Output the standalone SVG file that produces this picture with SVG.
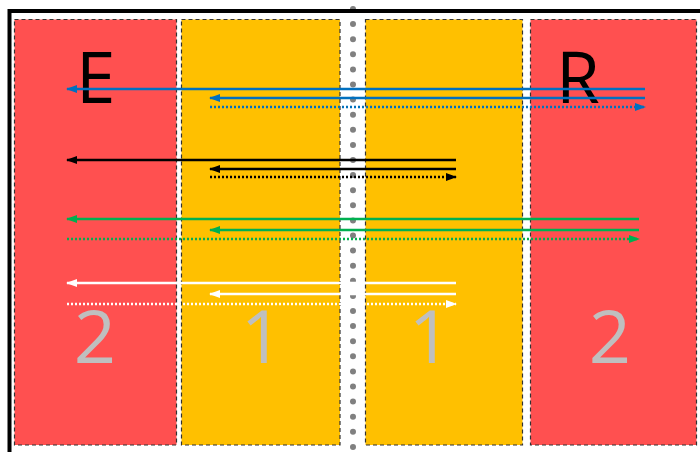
<svg xmlns="http://www.w3.org/2000/svg" width="700" height="452" viewBox="0 0 700 452">
<style>
.box{stroke:#333;stroke-width:1.2;stroke-dasharray:4 3}
.red{fill:#FF5050}
.yel{fill:#FFC000}
.lbl{font-family:"Open Sans","Noto Sans",sans-serif;font-size:71px;fill:#000}
.num{font-family:"Open Sans","Noto Sans",sans-serif;font-size:74px;fill:#BFBFBF;text-anchor:middle}
.s{stroke-width:2.5;fill:none}
.d{stroke-width:2.5;fill:none;stroke-dasharray:2 2}
</style>
<defs>
<marker id="mb" markerUnits="userSpaceOnUse" markerWidth="12" markerHeight="10" refX="10" refY="4" orient="auto"><path d="M0,0 L11,4 L0,8 z" fill="#0070C0"/></marker>
<marker id="mk" markerUnits="userSpaceOnUse" markerWidth="12" markerHeight="10" refX="10" refY="4" orient="auto"><path d="M0,0 L11,4 L0,8 z" fill="#000"/></marker>
<marker id="mg" markerUnits="userSpaceOnUse" markerWidth="12" markerHeight="10" refX="10" refY="4" orient="auto"><path d="M0,0 L11,4 L0,8 z" fill="#00B050"/></marker>
<marker id="mw" markerUnits="userSpaceOnUse" markerWidth="12" markerHeight="10" refX="10" refY="4" orient="auto"><path d="M0,0 L11,4 L0,8 z" fill="#fff"/></marker>
</defs>
<rect width="700" height="452" fill="#fff"/>
<g id="zone-red-left"><rect class="box red" x="14.5" y="19.5" width="162" height="425.5"/><text class="lbl" x="76" y="103">E</text><text class="num" x="95" y="363">2</text></g>
<g id="zone-yellow-left"><rect class="box yel" x="181.5" y="19.5" width="158.5" height="425.5"/><text class="num" x="262" y="363">1</text></g>
<g id="zone-yellow-right"><rect class="box yel" x="365.5" y="19.5" width="157" height="425.5"/><text class="num" x="430" y="363">1</text></g>
<g id="zone-red-right"><rect class="box red" x="530.5" y="19.5" width="166" height="425.5"/><text class="lbl" x="556" y="103">R</text><text class="num" x="610" y="363">2</text></g>
<g id="divider"><line x1="353" y1="9" x2="353" y2="452" stroke="#808080" stroke-width="6" stroke-linecap="round" stroke-dasharray="0 15.1"/></g>
<g id="frame"><path d="M9.5,460 L9.5,11 L705,11" fill="none" stroke="#000" stroke-width="4"/></g>
<g id="connectors">
<line class="s" stroke="#0070C0" x1="645" y1="89" x2="67" y2="89" marker-end="url(#mb)"/>
<line class="s" stroke="#0070C0" x1="645" y1="98" x2="210" y2="98" marker-end="url(#mb)"/>
<line class="d" stroke="#0070C0" x1="210" y1="107" x2="645" y2="107" marker-end="url(#mb)"/>
<line class="s" stroke="#000" x1="456" y1="160" x2="67" y2="160" marker-end="url(#mk)"/>
<line class="s" stroke="#000" x1="456" y1="169" x2="210" y2="169" marker-end="url(#mk)"/>
<line class="d" stroke="#000" x1="210" y1="177" x2="456" y2="177" marker-end="url(#mk)"/>
<line class="s" stroke="#00B050" x1="639" y1="219" x2="67" y2="219" marker-end="url(#mg)"/>
<line class="s" stroke="#00B050" x1="639" y1="230" x2="210" y2="230" marker-end="url(#mg)"/>
<line class="d" stroke="#00B050" x1="67" y1="239" x2="639" y2="239" marker-end="url(#mg)"/>
<line class="s" stroke="#fff" x1="456" y1="283" x2="67" y2="283" marker-end="url(#mw)"/>
<line class="s" stroke="#fff" x1="456" y1="294" x2="210" y2="294" marker-end="url(#mw)"/>
<line class="d" stroke="#fff" x1="67" y1="304" x2="456" y2="304" marker-end="url(#mw)"/>
</g>
</svg>
